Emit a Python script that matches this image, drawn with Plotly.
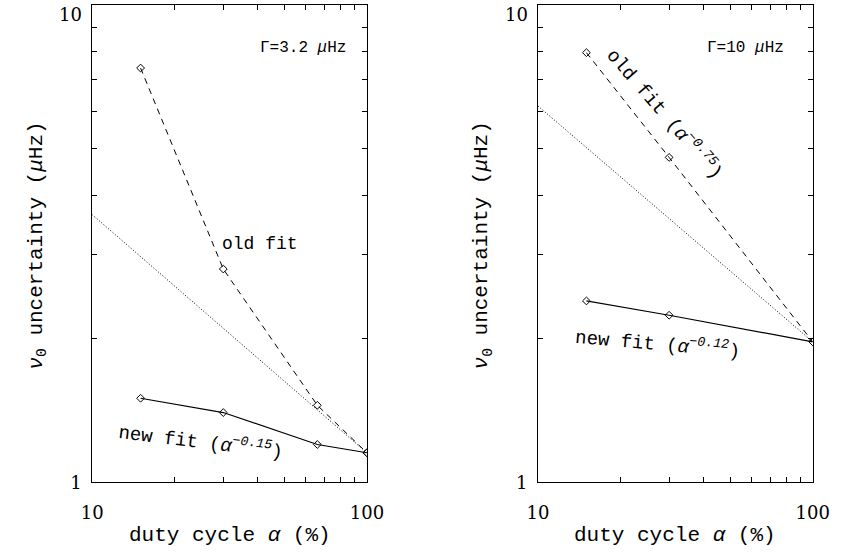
import plotly.graph_objects as go

# ---- data ----
alpha_left = [15, 30, 66, 100]
old_left = [7.39, 2.80, 1.45, 1.153]
new_left = [1.50, 1.40, 1.20, 1.153]
ref_x = [10, 100]
ref_left = [3.64, 1.153]

alpha_right = [15, 30, 100]
old_right = [7.96, 4.80, 1.97]
new_right = [2.40, 2.24, 1.97]
ref_right = [6.15, 1.97]

xtick_vals = [10, 20, 30, 40, 50, 60, 70, 80, 90, 100]
xtick_text = ["10", "", "", "", "", "", "", "", "", "100"]
ytick_vals = [1, 2, 3, 4, 5, 6, 7, 8, 9, 10]
ytick_text = ["1", "", "", "", "", "", "", "", "", ""]

W, H = 851, 560
FONT = "Liberation Mono"
TICKFONT = "DejaVu Serif"


def px(x):
    return x / W


def py(y):
    return 1 - y / H


fig = go.Figure()

marker = dict(symbol="diamond-open", size=6, color="black", line=dict(width=1, color="black"))

for xa, ya, alph, old, new, ref in [
    ("x", "y", alpha_left, old_left, new_left, ref_left),
    ("x2", "y2", alpha_right, old_right, new_right, ref_right),
]:
    fig.add_trace(go.Scatter(x=ref_x, y=ref, mode="lines", xaxis=xa, yaxis=ya,
                             line=dict(color="black", width=1, dash="1px,2px"), showlegend=False))
    fig.add_trace(go.Scatter(x=alph, y=old, mode="lines+markers", xaxis=xa, yaxis=ya,
                             line=dict(color="black", width=1, dash="6px,5px"), marker=marker,
                             showlegend=False))
    fig.add_trace(go.Scatter(x=alph, y=new, mode="lines+markers", xaxis=xa, yaxis=ya,
                             line=dict(color="black", width=1.2), marker=marker, showlegend=False))

xdom1 = [px(84), px(368)]
xdom2 = [px(545), px(829)]
ydom = [py(491), py(5.5)]

axcommon = dict(type="log", showgrid=False, zeroline=False, showline=True, linecolor="black",
                linewidth=1, mirror="ticks", ticks="inside", ticklen=5, tickcolor="black",
                tickwidth=1, tickmode="array",
                tickfont=dict(family=TICKFONT, size=18, color="black"))

fig.update_layout(
    width=W, height=H,
    margin=dict(l=0, r=0, t=0, b=0),
    paper_bgcolor="white", plot_bgcolor="white",
    xaxis=dict(axcommon, domain=xdom1, range=[1, 2], anchor="y",
               tickvals=xtick_vals, ticktext=xtick_text, ticklabelstandoff=14),
    yaxis=dict(axcommon, domain=ydom, range=[0, 1], anchor="x",
               tickvals=ytick_vals, ticktext=ytick_text, ticklabelstandoff=6),
    xaxis2=dict(axcommon, domain=xdom2, range=[1, 2], anchor="y2",
                tickvals=xtick_vals, ticktext=xtick_text, ticklabelstandoff=14),
    yaxis2=dict(axcommon, domain=ydom, range=[0, 1], anchor="x2",
                tickvals=ytick_vals, ticktext=ytick_text, ticklabelstandoff=6),
)


def ann(x, y, text, size=18, angle=0, family=FONT, xanchor="center"):
    fig.add_annotation(x=px(x), y=py(y), xref="paper", yref="paper", text=text,
                       showarrow=False, textangle=angle, xanchor=xanchor, yanchor="middle",
                       font=dict(family=family, size=size, color="black"))


# top y tick labels ("10")
ann(76, 15, "10", size=18, family=TICKFONT, xanchor="right")
ann(537, 15, "10", size=18, family=TICKFONT, xanchor="right")

# axis titles
ytitle = "<i>ν</i><sub>0</sub> uncertainty (<i>μ</i>Hz)"
xtitle = "duty cycle <i>α</i> (%)"
ann(27, 250, ytitle, size=21, angle=-90)
ann(488, 250, ytitle, size=21, angle=-90)
ann(226, 545, xtitle, size=21)
ann(687, 545, xtitle, size=21)

# in-panel labels
ann(302, 49, "Γ=3.2 <i>μ</i>Hz", size=16)
ann(760, 49, "Γ=10 <i>μ</i>Hz", size=16)
ann(257, 248, "old fit", size=18)
ann(196, 450, "new fit (<i>α</i><sup><i>−0.15</i></sup>)", size=19, angle=7)
ann(669, 350, "new fit (<i>α</i><sup><i>−0.12</i></sup>)", size=19, angle=5)
ann(676, 116, "old fit (<i>α</i><sup><i>−0.75</i></sup>)", size=19, angle=49)

fig.write_html("out.html")
